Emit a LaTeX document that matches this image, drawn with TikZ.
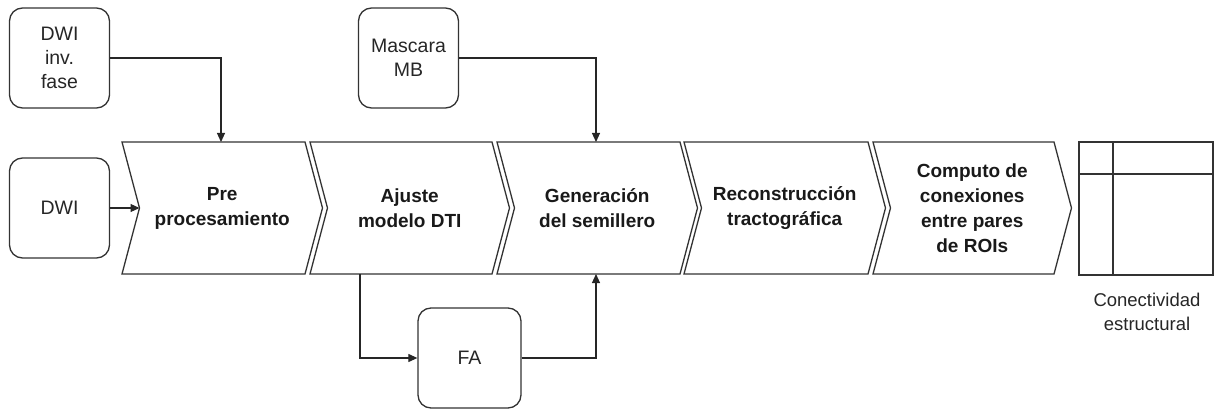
\documentclass[tikz,border=0pt]{standalone}
\usepackage{fontspec}
\setmainfont{Liberation Sans}
\usetikzlibrary{arrows.meta}
\begin{document}
\begin{tikzpicture}[x=1pt,y=-1pt,
  line width=1.3pt, draw={black!80},
  inbox/.style={draw={black!80},rounded corners=13pt,minimum width=100pt,minimum height=100pt,align=center,font=\fontsize{19.5}{24}\selectfont,text=black!85,inner sep=0pt},
  stagetext/.style={align=center,font=\fontsize{19}{25}\selectfont\bfseries,text=black!90},
  conn/.style={-{Triangle[length=9pt,width=8pt]},line width=1.1pt,black!85},
  chev/.style={draw={black!80},line width=1.3pt,line join=miter}]
\useasboundingbox (0,0) rectangle (1216,409);
% chevrons
\foreach \i/\L/\R in {1/122/305, 2/310/492, 3/497/680, 4/684/868, 5/873/1054}{
  \draw[chev] (\L,142) -- (\R,142) -- (\R+17.5,208) -- (\R,274) -- (\L,274) -- (\L+17.5,208) -- cycle;
  \coordinate (c\i) at ({(\L+\R)/2+8.75},208);
  \coordinate (n\i) at (\L+17.5,208);
}
\node[stagetext] (s1) at (c1) {Pre\\procesamiento};
\node[stagetext] (s2) at (c2) {Ajuste\\modelo DTI};
\node[stagetext] (s3) at (c3) {Generación\\del semillero};
\node[stagetext] (s4) at (c4) {Reconstrucción\\tractográfica};
\node[stagetext] (s5) at (c5) {Computo de\\conexiones\\entre pares\\de ROIs};
% input boxes
\node[inbox] (inv) at (59.5,58) {DWI\\inv.\\fase};
\node[inbox] (dwi) at (59.5,208) {DWI};
\node[inbox] (mb) at (408.5,58) {Mascara\\MB};
\node[inbox,minimum width=103pt] (fa) at (469.5,358) {FA};
% matrix
\draw[chev] (1079,142) rectangle (1213,275);
\draw[chev] (1079,174) -- (1213,174);
\draw[chev] (1113,142) -- (1113,275);
\node[align=center,font=\fontsize{18.5}{24}\selectfont,text=black!85] (lab) at (1147,312) {Conectividad\\estructural};
% connectors
\coordinate (t1) at (221,142);
\coordinate (t3) at (596,142);
\coordinate (b2) at (360,274);
\coordinate (b3) at (596,274);
\draw[conn] (inv.east) -| (t1);
\draw[conn] (mb.east) -| (t3);
\draw[conn] (dwi.east) -- (n1);
\draw[conn] (b2) |- (fa.west);
\draw[conn] (fa.east) -| (b3);
\end{tikzpicture}
\end{document}
